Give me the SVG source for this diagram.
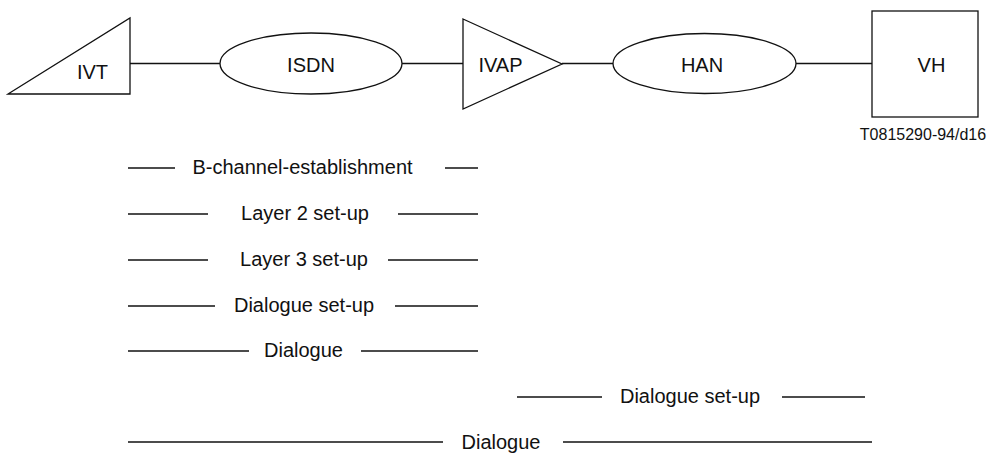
<svg xmlns="http://www.w3.org/2000/svg" width="995" height="455" viewBox="0 0 995 455">
  <style>
    .shape { fill: #ffffff; stroke: #111111; stroke-width: 1.3; }
    .link { fill: none; stroke: #111111; stroke-width: 1.3; }
    .label { font-family: "Liberation Sans", Arial, sans-serif; font-size: 20px; fill: #111111; text-anchor: middle; }
    .ref { font-family: "Liberation Sans", Arial, sans-serif; font-size: 16px; fill: #111111; text-anchor: middle; }
  </style>
  <rect width="995" height="455" fill="#ffffff"/>

  <!-- connectors between the network elements -->
  <g id="connectors">
    <line class="link" x1="130" y1="63.5" x2="220" y2="63.5"/>
    <line class="link" x1="402" y1="63.5" x2="463" y2="63.5"/>
    <line class="link" x1="562" y1="63.5" x2="613" y2="63.5"/>
    <line class="link" x1="796" y1="63.5" x2="872" y2="63.5"/>
  </g>

  <g id="ivt">
    <polygon class="shape" points="8,94 130,18 130,94"/>
    <text class="label" x="92.5" y="79">IVT</text>
  </g>

  <g id="isdn">
    <ellipse class="shape" cx="311" cy="63.5" rx="91" ry="30.5"/>
    <text class="label" x="311" y="72">ISDN</text>
  </g>

  <g id="ivap">
    <polygon class="shape" points="463,19 562,64 463,109"/>
    <text class="label" x="500.5" y="72">IVAP</text>
  </g>

  <g id="han">
    <ellipse class="shape" cx="704.5" cy="63.5" rx="91.5" ry="30"/>
    <text class="label" x="702" y="72">HAN</text>
  </g>

  <g id="vh">
    <rect class="shape" x="872" y="11" width="106" height="106"/>
    <text class="label" x="931.5" y="72">VH</text>
  </g>

  <text class="ref" x="923" y="140">T0815290-94/d16</text>

  <!-- phase sequence -->
  <g id="phases">
    <line class="link" x1="128" y1="168" x2="175" y2="168"/>
    <text class="label" x="302.5" y="174">B-channel-establishment</text>
    <line class="link" x1="445" y1="168" x2="478" y2="168"/>

    <line class="link" x1="128" y1="214" x2="208" y2="214"/>
    <text class="label" x="305" y="220">Layer 2 set-up</text>
    <line class="link" x1="398" y1="214" x2="478" y2="214"/>

    <line class="link" x1="128" y1="260" x2="208" y2="260"/>
    <text class="label" x="304" y="266">Layer 3 set-up</text>
    <line class="link" x1="388" y1="260" x2="478" y2="260"/>

    <line class="link" x1="128" y1="306" x2="215" y2="306"/>
    <text class="label" x="304" y="312">Dialogue set-up</text>
    <line class="link" x1="395" y1="306" x2="478" y2="306"/>

    <line class="link" x1="128" y1="351" x2="249" y2="351"/>
    <text class="label" x="303.5" y="357">Dialogue</text>
    <line class="link" x1="361" y1="351" x2="478" y2="351"/>

    <line class="link" x1="517" y1="397" x2="602" y2="397"/>
    <text class="label" x="690" y="403">Dialogue set-up</text>
    <line class="link" x1="782" y1="397" x2="865" y2="397"/>

    <line class="link" x1="128" y1="442" x2="443" y2="442"/>
    <text class="label" x="501" y="449">Dialogue</text>
    <line class="link" x1="563" y1="442" x2="872" y2="442"/>
  </g>
</svg>
